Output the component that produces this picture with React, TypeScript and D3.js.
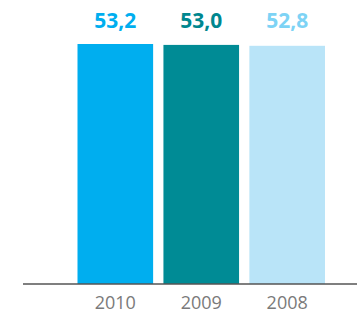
import { scaleBand, scaleLinear } from 'd3';

const years = ['2010', '2009', '2008'];
const values = [53.2, 53.0, 52.8];
const labels = ['53,2', '53,0', '52,8'];
const barColors = ['#00aeef', '#008b95', '#b9e4f8'];
const labelColors = ['#00aeef', '#00878f', '#7dd3f5'];

export default function App() {
  const width = 357;
  const height = 315;
  const baseline = 284;

  const x = scaleBand()
    .domain(years)
    .range([77.5, 325])
    .paddingInner(0.12)
    .paddingOuter(0);

  const y = scaleLinear().domain([0, 53.2]).range([baseline, 44]);

  return (
    <svg
      width={width}
      height={height}
      style={{ position: 'absolute', left: 0, top: 0, fontFamily: '"Open Sans", sans-serif' }}
    >
      {years.map((yr, i) => (
        <g key={yr}>
          <rect
            x={x(yr)!}
            y={y(values[i])}
            width={x.bandwidth()}
            height={baseline - y(values[i])}
            fill={barColors[i]}
          />
          <text
            x={x(yr)! + x.bandwidth() / 2}
            y={28}
            textAnchor="middle"
            fontSize={21}
            fontWeight={700}
            fill={labelColors[i]}
          >
            {labels[i]}
          </text>
          <text
            x={x(yr)! + x.bandwidth() / 2}
            y={309}
            textAnchor="middle"
            fontSize={18}
            fill="#7a7a7a"
          >
            {yr}
          </text>
        </g>
      ))}
      <line x1={23} x2={357} y1={baseline} y2={baseline} stroke="#555" strokeWidth={1.5} />
    </svg>
  );
}
